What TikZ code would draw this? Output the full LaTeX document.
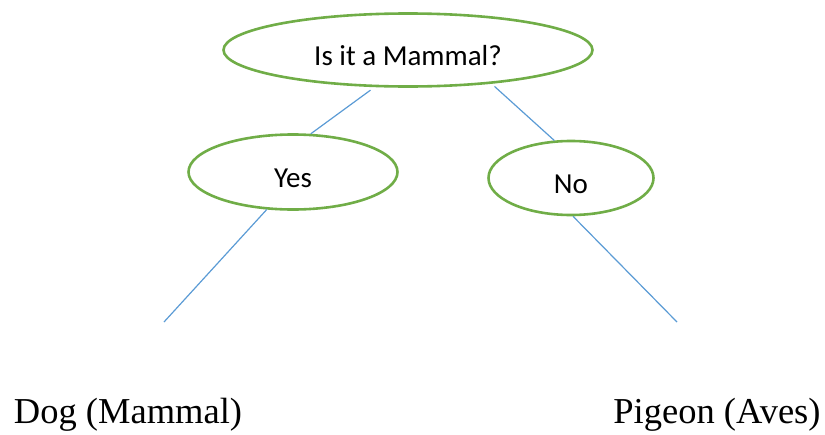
\documentclass[tikz,border=0pt]{standalone}
\usepackage{fontspec}
\setmainfont{Liberation Serif}
\newfontfamily\carlito{Carlito}
\usepackage{tikz}
\usetikzlibrary{shapes.geometric, calc}
\definecolor{leafgreen}{RGB}{112,173,71}
\definecolor{linkblue}{RGB}{91,155,213}

\begin{document}
\begin{tikzpicture}[x=1pt,y=-1pt,
    bubble/.style={ellipse,draw=leafgreen,line width=2.6pt,inner sep=0pt,font=\carlito\fontsize{29}{31}\selectfont,text height=31pt,text depth=0pt},
    link/.style={linkblue,line width=1.2pt},
    answer/.style={anchor=base,inner sep=0pt,font=\fontsize{36.5}{40}\selectfont}]
    \useasboundingbox (0,0) rectangle (825,434);

    % Domanda
    \node[bubble,minimum width=369pt,minimum height=73pt] (question) at (408,50) {Is it a Mammal?};

    % Risposte
    \node[bubble,minimum width=209pt,minimum height=75pt] (yes) at (293,172) {Yes};
    \node[bubble,minimum width=165pt,minimum height=74pt] (no) at (571,178) {No};

    % Foglie
    \node[answer] (dog) at (128,423) {Dog (Mammal)};
    \node[answer] (pigeon) at (717,423) {Pigeon (Aves)};
    \coordinate (dogend) at (164,322);
    \coordinate (pigeonend) at (677,322);

    % Collegamenti
    \draw[link,shorten <=5pt] (question.228.6) -- (yes.65);
    \draw[link,shorten <=4pt] (question.338.2) -- (no.114.6);
    \draw[link] (yes.235.6) -- (dogend);
    \draw[link] (no.273) -- (pigeonend);
\end{tikzpicture}
\end{document}
